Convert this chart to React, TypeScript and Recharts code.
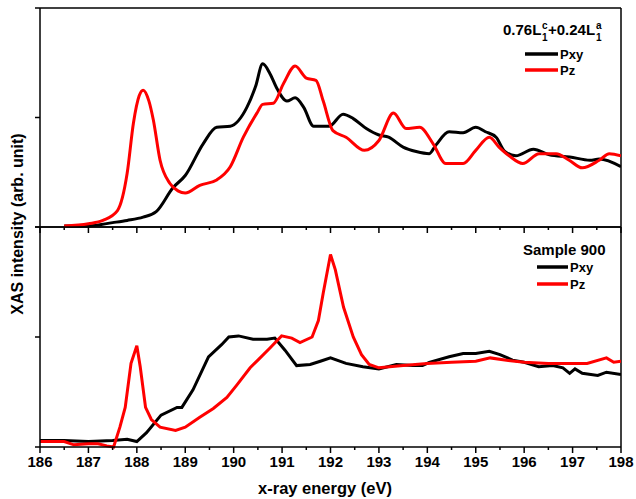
import { Line, LineChart, ReferenceLine, XAxis, YAxis } from "recharts";

// x ticks every 0.5 eV, labels on whole numbers
const energyTicks = [
  186, 186.5, 187, 187.5, 188, 188.5, 189, 189.5, 190, 190.5, 191, 191.5, 192,
  192.5, 193, 193.5, 194, 194.5, 195, 195.5, 196, 196.5, 197, 197.5, 198,
];
const intensityTicks = [0, 1, 2];

// top panel: 0.76Lc + 0.24La
const topPxyE = [
  186.5, 187.0, 187.5, 187.8, 188.13, 188.4, 188.75, 189.0, 189.37, 189.65,
  189.93, 190.27, 190.45, 190.6, 190.75, 190.9, 191.1, 191.27, 191.45, 191.65,
  191.97, 192.26, 192.47, 192.74, 193.0, 193.2, 193.5, 193.77, 194.04, 194.18,
  194.45, 194.74, 195.0, 195.2, 195.42, 195.6, 195.83, 196.19, 196.52, 196.94,
  197.36, 197.55, 198.0,
];
const topPxyI = [
  0.01, 0.01, 0.04, 0.06, 0.09, 0.14, 0.36, 0.47, 0.76, 0.91, 0.92, 1.09, 1.28,
  1.49, 1.4, 1.26, 1.15, 1.18, 1.09, 0.92, 0.92, 1.03, 0.99, 0.9, 0.84, 0.82,
  0.73, 0.69, 0.67, 0.75, 0.87, 0.86, 0.91, 0.87, 0.82, 0.69, 0.65, 0.71, 0.66,
  0.64, 0.61, 0.62, 0.55,
];
const topPzE = [
  186.5, 187.0, 187.3, 187.6, 187.8, 187.93, 188.05, 188.13, 188.25, 188.34,
  188.48, 188.68, 188.85, 189.0, 189.3, 189.65, 189.93, 190.2, 190.48, 190.6,
  190.82, 191.03, 191.27, 191.5, 191.7, 191.85, 192.05, 192.32, 192.7, 193.0,
  193.3, 193.56, 193.84, 194.12, 194.38, 194.74, 195.0, 195.28, 195.48, 195.69,
  195.97, 196.31, 196.66, 196.93, 197.2, 197.55, 197.76, 198.0,
];
const topPzI = [
  0.01, 0.03, 0.06, 0.15, 0.49, 0.95, 1.2, 1.25, 1.15, 0.98, 0.61, 0.4, 0.33,
  0.31, 0.38, 0.43, 0.55, 0.82, 1.04, 1.12, 1.13, 1.31, 1.47, 1.36, 1.34, 1.15,
  0.88, 0.82, 0.7, 0.79, 1.04, 0.9, 0.91, 0.76, 0.58, 0.58, 0.7, 0.82, 0.73,
  0.65, 0.58, 0.67, 0.67, 0.61, 0.54, 0.61, 0.67, 0.65,
];

// bottom panel: Sample 900
const botPxyE = [
  186.0, 186.5, 187.0, 187.5, 187.8, 188.0, 188.2, 188.5, 188.83, 188.93,
  189.16, 189.48, 189.75, 189.9, 190.1, 190.4, 190.69, 190.85, 191.06, 191.3,
  191.58, 191.79, 192.0, 192.32, 192.67, 193.0, 193.36, 193.7, 193.9, 194.04,
  194.45, 194.74, 195.0, 195.28, 195.5, 195.76, 196.0, 196.3, 196.59, 196.8,
  196.94, 197.05, 197.2, 197.52, 197.7, 198.0,
];
const botPxyI = [
  0.06, 0.06, 0.05, 0.06, 0.07, 0.05, 0.13, 0.29, 0.36, 0.36, 0.52, 0.82, 0.93,
  1.0, 1.01, 0.98, 0.98, 0.99, 0.88, 0.74, 0.75, 0.78, 0.81, 0.76, 0.73, 0.71,
  0.75, 0.74, 0.74, 0.77, 0.82, 0.85, 0.85, 0.87, 0.84, 0.79, 0.77, 0.73, 0.74,
  0.72, 0.67, 0.71, 0.67, 0.65, 0.68, 0.66,
];
const botPzE = [
  186.0, 186.5, 186.7, 187.0, 187.2, 187.38, 187.52, 187.65, 187.76, 187.88,
  188.0, 188.07, 188.18, 188.3, 188.48, 188.8, 189.0, 189.3, 189.58, 189.86,
  190.06, 190.34, 190.5, 190.75, 190.99, 191.2, 191.37, 191.62, 191.75, 191.85,
  192.0, 192.1, 192.27, 192.47, 192.64, 192.8, 193.0, 193.5, 194.0, 194.5,
  195.0, 195.3, 195.6, 196.0, 196.5, 197.0, 197.3, 197.7, 197.85, 198.0,
];
const botPzI = [
  0.05, 0.05, 0.02, 0.03, 0.03, 0.01, 0.0, 0.18, 0.36, 0.76, 0.92, 0.73, 0.36,
  0.25, 0.18, 0.15, 0.18, 0.27, 0.35, 0.45, 0.56, 0.72, 0.79, 0.9, 1.01, 0.99,
  0.95, 1.0, 1.15, 1.4, 1.75, 1.61, 1.27, 1.0, 0.84, 0.75, 0.72, 0.74, 0.76,
  0.77, 0.78, 0.81, 0.79, 0.77, 0.76, 0.76, 0.76, 0.81, 0.77, 0.78,
];

const FONT = "'Liberation Sans', Arial, sans-serif";

const toPoints = (e: number[], v: number[]) =>
  e.map((x, i) => ({ e: x, v: v[i] }));

const EnergyTick = (props: any) => {
  const { x, y, payload, showLabel } = props;
  const major = Number.isInteger(payload.value);
  return (
    <g>
      <line
        x1={x}
        x2={x}
        y1={y}
        y2={y + (major ? 6 : 3)}
        stroke="#000"
        strokeWidth={1.5}
      />
      {showLabel && major && (
        <text
          x={x}
          y={y + 20}
          textAnchor="middle"
          fontFamily={FONT}
          fontWeight="bold"
          fontSize={15}
          fill="#000"
        >
          {payload.value}
        </text>
      )}
    </g>
  );
};

const Panel = ({
  pxy,
  pz,
  height,
  margin,
  axisHeight,
  showLabels,
  curve,
}: {
  pxy: { e: number; v: number }[];
  pz: { e: number; v: number }[];
  height: number;
  margin: { top: number; right: number; bottom: number; left: number };
  axisHeight: number;
  showLabels: boolean;
  curve: "monotone" | "linear";
}) => (
  <LineChart width={636} height={height} margin={margin}>
    <XAxis
      type="number"
      dataKey="e"
      domain={[186, 198]}
      ticks={energyTicks}
      allowDataOverflow
      height={axisHeight}
      tickSize={0}
      tickMargin={0}
      tickLine={false}
      axisLine={{ stroke: "#000", strokeWidth: 1.5 }}
      tick={<EnergyTick showLabel={showLabels} />}
      interval={0}
    />
    <YAxis
      type="number"
      domain={[0, 2]}
      ticks={intensityTicks}
      width={40}
      tickSize={5}
      tickFormatter={() => ""}
      tickLine={{ stroke: "#000", strokeWidth: 1.5 }}
      axisLine={{ stroke: "#000", strokeWidth: 1.5 }}
    />
    <ReferenceLine y={2} stroke="#000" strokeWidth={1.5} />
    <ReferenceLine x={198} stroke="#000" strokeWidth={1.5} />
    <Line
      data={pxy}
      dataKey="v"
      type={curve}
      stroke="#000000"
      strokeWidth={3}
      dot={false}
      isAnimationActive={false}
    />
    <Line
      data={pz}
      dataKey="v"
      type={curve}
      stroke="#ff0000"
      strokeWidth={3}
      dot={false}
      isAnimationActive={false}
    />
  </LineChart>
);

const App = () => {
  const txt = {
    fontFamily: FONT,
    fontWeight: "bold" as const,
    fill: "#000",
  };
  return (
    <div
      style={{
        position: "absolute",
        left: 0,
        top: 0,
        width: 636,
        height: 499,
        background: "#fff",
      }}
    >
      <div style={{ position: "absolute", left: 0, top: 0 }}>
        <Panel
          pxy={toPoints(botPxyE, botPxyI)}
          pz={toPoints(botPzE, botPzI)}
          height={499}
          margin={{ top: 227, right: 15, bottom: 12, left: 0 }}
          axisHeight={40}
          showLabels
          curve="linear"
        />
      </div>
      <div style={{ position: "absolute", left: 0, top: 0 }}>
        <Panel
          pxy={toPoints(topPxyE, topPxyI)}
          pz={toPoints(topPzE, topPzI)}
          height={240}
          margin={{ top: 8, right: 15, bottom: 3, left: 0 }}
          axisHeight={10}
          showLabels={false}
          curve="monotone"
        />
      </div>
      <svg
        width={636}
        height={499}
        style={{ position: "absolute", left: 0, top: 0, pointerEvents: "none" }}
      >
        <text
          {...txt}
          x={23}
          y={224}
          fontSize={16}
          textAnchor="middle"
          transform="rotate(-90 23 224)"
        >
          XAS intensity (arb. unit)
        </text>
        <text {...txt} x={325} y={494} fontSize={16.5} textAnchor="middle">
          x-ray energy (eV)
        </text>

        {/* top legend */}
        <text {...txt} x={503} y={35} fontSize={15}>0.76L</text>
        <text {...txt} x={542} y={29} fontSize={10}>c</text>
        <text {...txt} x={542} y={41} fontSize={10}>1</text>
        <text {...txt} x={548} y={35} fontSize={15}>+0.24L</text>
        <text {...txt} x={596} y={29} fontSize={10}>a</text>
        <text {...txt} x={596} y={41} fontSize={10}>1</text>
        <line x1={525} x2={558} y1={54} y2={54} stroke="#000" strokeWidth={3.5} />
        <text {...txt} x={560} y={59} fontSize={13}>Pxy</text>
        <line x1={525} x2={558} y1={70} y2={70} stroke="#ff0000" strokeWidth={3.5} />
        <text {...txt} x={560} y={75} fontSize={13}>Pz</text>

        {/* bottom legend */}
        <text {...txt} x={523} y={255} fontSize={15}>Sample 900</text>
        <line x1={537} x2={568} y1={267} y2={267} stroke="#000" strokeWidth={3.5} />
        <text {...txt} x={570} y={272} fontSize={13}>Pxy</text>
        <line x1={537} x2={568} y1={284} y2={284} stroke="#ff0000" strokeWidth={3.5} />
        <text {...txt} x={570} y={289} fontSize={13}>Pz</text>
      </svg>
    </div>
  );
};

export default App;
